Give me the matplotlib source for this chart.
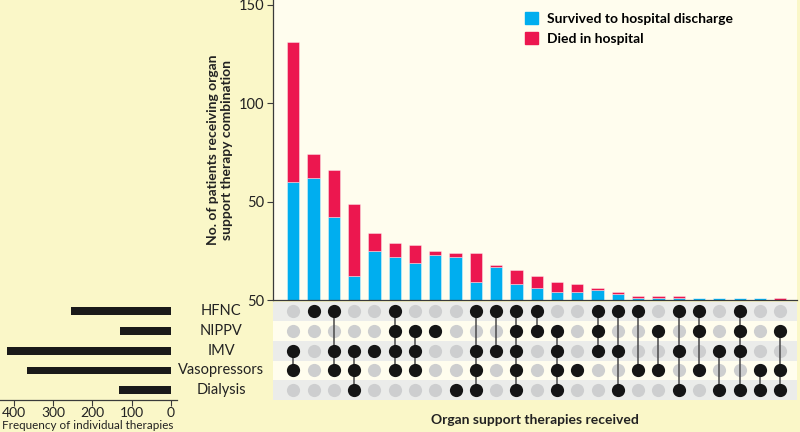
import numpy as np
import matplotlib.pyplot as plt
from matplotlib.patches import Patch
from matplotlib.transforms import blended_transform_factory

plt.rcParams['font.family'] = ['Lato', 'DejaVu Sans']

# data
therapies = ['HFNC', 'NIPPV', 'IMV', 'Vasopressors', 'Dialysis']
therapy_totals = [254, 130, 417, 366, 131]

combos = [
    ('IMV', 'Vasopressors'),
    ('HFNC',),
    ('HFNC', 'IMV', 'Vasopressors'),
    ('IMV', 'Vasopressors', 'Dialysis'),
    ('IMV',),
    ('HFNC', 'NIPPV', 'IMV', 'Vasopressors'),
    ('NIPPV', 'IMV', 'Vasopressors'),
    ('NIPPV',),
    ('Dialysis',),
    ('HFNC', 'IMV', 'Vasopressors', 'Dialysis'),
    ('HFNC', 'IMV'),
    ('HFNC', 'NIPPV', 'IMV', 'Vasopressors', 'Dialysis'),
    ('HFNC', 'NIPPV'),
    ('NIPPV', 'IMV', 'Vasopressors', 'Dialysis'),
    ('Vasopressors',),
    ('HFNC', 'NIPPV', 'IMV'),
    ('HFNC', 'IMV', 'Dialysis'),
    ('HFNC', 'Vasopressors'),
    ('NIPPV', 'Vasopressors'),
    ('HFNC', 'IMV', 'Dialysis'),
    ('HFNC', 'NIPPV', 'Vasopressors'),
    ('IMV', 'Dialysis'),
    ('HFNC', 'NIPPV', 'IMV', 'Dialysis'),
    ('Vasopressors', 'Dialysis'),
    ('NIPPV', 'Vasopressors', 'Dialysis'),
]
survived = [60, 62, 42, 12, 25, 22, 19, 23, 22, 9, 17, 8, 6, 4, 4, 5, 3, 1, 1, 1, 1, 1, 1, 1, 0]
died = [71, 12, 24, 37, 9, 7, 9, 2, 2, 15, 1, 7, 6, 5, 4, 1, 1, 1, 1, 1, 0, 0, 0, 0, 1]

y_ticks = [0, 50, 100, 150]
y_tick_labels = ['50', '50', '100', '150']
freq_ticks = [400, 300, 200, 100, 0]

BLUE = '#00aeef'
RED = '#ec174f'
BG = '#faf7c8'
CREAM = '#fffdee'
BAND = '#ebecea'
SPINE = '#3a3a3a'

W, H = 800, 432
fig = plt.figure(figsize=(8, 4.32), dpi=100, facecolor=BG)

def box(x0, y0, x1, y1):
    # pixel box (top-left origin) -> figure fraction rect
    return [x0 / W, 1 - y1 / H, (x1 - x0) / W, (y1 - y0) / H]

ax_bar = fig.add_axes(box(273, 0, 797, 300))
ax_mat = fig.add_axes(box(273, 301.5, 797, 400), sharex=ax_bar)
ax_left = fig.add_axes(box(0, 301.5, 176.7, 400))

x = np.arange(len(combos))
xlim = (-1.0, 24.83)

# stacked bars
ax_bar.set_facecolor(CREAM)
ax_bar.bar(x, survived, 0.6, color=BLUE, edgecolor=(1, 1, 1, 0.45), linewidth=0.6,
           label='Survived to hospital discharge', zorder=2)
ax_bar.bar(x, died, 0.6, bottom=survived, color=RED, edgecolor=(1, 1, 1, 0.45),
           linewidth=0.6, label='Died in hospital', zorder=2)
ax_bar.set_xlim(*xlim)
ax_bar.set_ylim(0, 152.5)
ax_bar.set_yticks(y_ticks)
ax_bar.set_yticklabels(y_tick_labels)
ax_bar.tick_params(axis='y', direction='out', length=4, width=0.8, color=SPINE,
                   labelsize=10.5, labelcolor='#222222', pad=2)
ax_bar.tick_params(axis='x', bottom=False, labelbottom=False)
for s in ['top', 'right']:
    ax_bar.spines[s].set_visible(False)
for s in ['left', 'bottom']:
    ax_bar.spines[s].set_color(SPINE)
    ax_bar.spines[s].set_linewidth(0.9)
ax_bar.set_ylabel('No. of patients receiving organ\nsupport therapy combination',
                  fontsize=10, fontweight='bold', color='#222222', labelpad=4,
                  linespacing=1.2)

handles = [Patch(color=BLUE), Patch(color=RED)]
ax_bar.legend(handles, ['Survived to hospital discharge', 'Died in hospital'],
              loc='upper left', bbox_to_anchor=(525 / W, 1 - 12 / H),
              bbox_transform=fig.transFigure, frameon=False, borderpad=0,
              borderaxespad=0, handlelength=0.95, handleheight=0.95,
              handletextpad=0.6, labelspacing=0.55,
              prop={'weight': 'bold', 'size': 10})

# matrix of dots
ax_mat.set_facecolor(CREAM)
ax_mat.set_ylim(len(therapies) - 0.5, -0.5)
for i in range(len(therapies)):
    if i % 2 == 0:
        ax_mat.axhspan(i - 0.5, i + 0.5, color=BAND, lw=0, zorder=0)
gx, gy = np.meshgrid(x, np.arange(len(therapies)))
ax_mat.scatter(gx.ravel(), gy.ravel(), s=90, color='#cdcecf', lw=0, zorder=1)
for j, combo in enumerate(combos):
    rows = [therapies.index(t) for t in combo]
    if len(rows) > 1:
        ax_mat.plot([j, j], [min(rows), max(rows)], color='#4a4a4a', lw=1.1, zorder=2)
    ax_mat.scatter([j] * len(rows), rows, s=90, color='#151515', lw=0, zorder=3)
ax_mat.set_xticks([])
ax_mat.set_yticks([])
for s in ax_mat.spines.values():
    s.set_visible(False)
ax_mat.set_xlabel('Organ support therapies received', fontsize=10,
                  fontweight='bold', color='#222222', labelpad=10)

# therapy names between the panels
tr = blended_transform_factory(fig.transFigure, ax_mat.transData)
for i, name in enumerate(therapies):
    fig.text(221 / W, i, name, transform=tr, ha='center', va='center',
             fontsize=10.5, color='#222222')

# totals per therapy
ax_left.set_facecolor('none')
ax_left.barh(np.arange(len(therapies)), therapy_totals, height=0.4, color='#1a1a1a')
ax_left.set_xlim(435, -15)
ax_left.set_ylim(len(therapies) - 0.5, -0.5)
ax_left.set_xticks(freq_ticks)
ax_left.set_yticks([])
ax_left.tick_params(axis='x', direction='out', length=4, width=0.8, color=SPINE,
                    labelsize=10, labelcolor='#222222', pad=1)
for s in ['top', 'right', 'left']:
    ax_left.spines[s].set_visible(False)
ax_left.spines['bottom'].set_color(SPINE)
ax_left.spines['bottom'].set_linewidth(0.9)
ax_left.set_xlabel('Frequency of individual therapies', fontsize=8.4,
                   color='#222222')
ax_left.xaxis.set_label_coords(88 / 176.7, -0.2)

fig.savefig('out.png', dpi=100, facecolor=BG)
